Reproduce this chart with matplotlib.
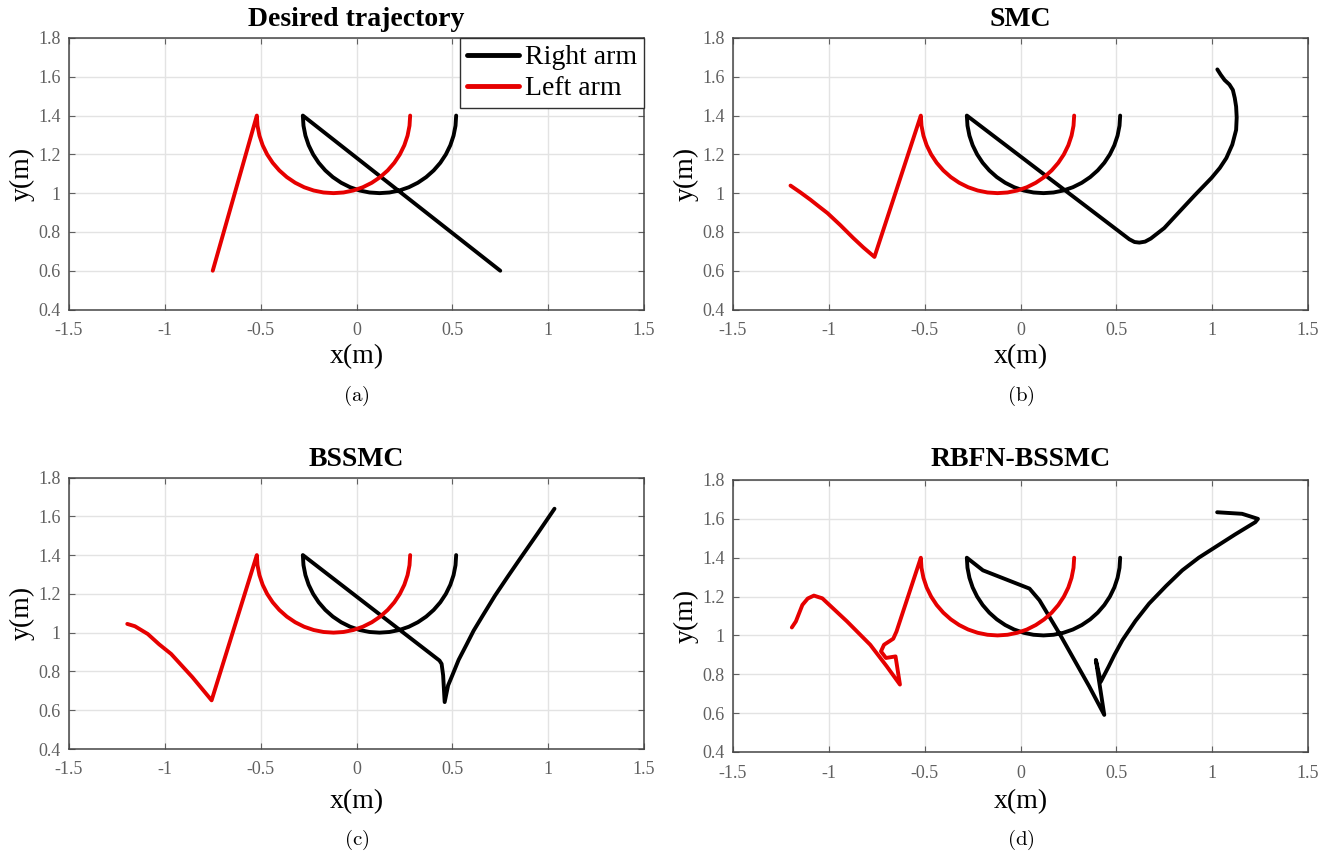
import numpy as np
import matplotlib
matplotlib.use("Agg")
import matplotlib.pyplot as plt

matplotlib.rcParams.update({
    "font.family": ["Liberation Serif", "DejaVu Serif"],
    "axes.unicode_minus": False,
    "mathtext.fontset": "cm",
})

FIG_W, FIG_H = 1341, 858
LINE_WIDTH = 2.8
RED = "#e60000"
BLACK = "black"
TICK_COLOR = "#606060"
GRID_COLOR = "#e3e3e3"

X_TICKS = [-1.5, -1.0, -0.5, 0.0, 0.5, 1.0, 1.5]
X_TICK_LABELS = ["-1.5", "-1", "-0.5", "0", "0.5", "1", "1.5"]
Y_TICKS = [0.4, 0.6, 0.8, 1.0, 1.2, 1.4, 1.6, 1.8]
Y_TICK_LABELS = ["0.4", "0.6", "0.8", "1", "1.2", "1.4", "1.6", "1.8"]

TITLES = ["Desired trajectory", "SMC", "BSSMC", "RBFN-BSSMC"]
CAPTIONS = ["(a)", "(b)", "(c)", "(d)"]

# half-circle arcs (same in every panel)
ARC_Y = [1.4, 1.3478, 1.2965, 1.2469, 1.2, 1.1565, 1.1172, 1.0827, 1.0536,
         1.0304, 1.0136, 1.0034, 1.0, 1.0034, 1.0136, 1.0304, 1.0536, 1.0827,
         1.1172, 1.1565, 1.2, 1.2469, 1.2965, 1.3478, 1.4]
RIGHT_ARC_X = [-0.28, -0.2766, -0.2664, -0.2496, -0.2264, -0.1973, -0.1628,
               -0.1235, -0.08, -0.0331, 0.0165, 0.0678, 0.12, 0.1722, 0.2235,
               0.2731, 0.32, 0.3635, 0.4028, 0.4373, 0.4664, 0.4896, 0.5064,
               0.5166, 0.52]
LEFT_ARC_X = [-0.52, -0.5166, -0.5064, -0.4896, -0.4664, -0.4373, -0.4028,
              -0.3635, -0.32, -0.2731, -0.2235, -0.1722, -0.12, -0.0678,
              -0.0165, 0.0331, 0.08, 0.1235, 0.1628, 0.1973, 0.2264, 0.2496,
              0.2664, 0.2766, 0.28]

# (a) desired
DES_RIGHT_X = [0.75, -0.28]
DES_RIGHT_Y = [0.60, 1.40]
DES_LEFT_X = [-0.75, -0.52]
DES_LEFT_Y = [0.60, 1.40]

# (b) SMC
SMC_RIGHT_X = [1.027, 1.045, 1.065, 1.09, 1.108, 1.118, 1.125, 1.128, 1.125,
               1.105, 1.074, 1.04, 0.997, 0.91, 0.825, 0.75, 0.68, 0.65, 0.62,
               0.595, 0.568, -0.28]
SMC_RIGHT_Y = [1.638, 1.61, 1.583, 1.56, 1.532, 1.49, 1.446, 1.39, 1.326,
               1.25, 1.181, 1.13, 1.079, 0.99, 0.90, 0.82, 0.766, 0.75, 0.745,
               0.748, 0.762, 1.40]
SMC_LEFT_X = [-1.20, -1.15, -1.096, -1.05, -1.007, -0.94, -0.873, -0.82, -0.762, -0.52]
SMC_LEFT_Y = [1.039, 1.005, 0.966, 0.93, 0.897, 0.835, 0.769, 0.72, 0.671, 1.40]

# (c) BSSMC
BS_RIGHT_X = [1.033, 0.944, 0.856, 0.79, 0.722, 0.66, 0.611, 0.575, 0.533,
              0.50, 0.478, 0.46, 0.452, 0.444, 0.433, -0.28]
BS_RIGHT_Y = [1.639, 1.51, 1.385, 1.29, 1.19, 1.09, 1.01, 0.94, 0.86,
              0.78, 0.728, 0.642, 0.78, 0.839, 0.856, 1.40]
BS_LEFT_X = [-1.196, -1.156, -1.089, -1.03, -0.967, -0.856, -0.756, -0.52]
BS_LEFT_Y = [1.045, 1.033, 0.993, 0.94, 0.89, 0.77, 0.651, 1.40]

# (d) RBFN-BSSMC
RB_RIGHT_X = [1.026, 1.156, 1.239, 1.225, 1.12, 1.017, 0.93, 0.844, 0.76, 0.671,
              0.60, 0.532, 0.49, 0.46, 0.419, 0.393, 0.437, 0.359, 0.203, 0.099,
              0.047, -0.196, -0.28]
RB_RIGHT_Y = [1.634, 1.626, 1.60, 1.583, 1.52, 1.455, 1.40, 1.335, 1.255, 1.164,
              1.075, 0.976, 0.90, 0.84, 0.762, 0.874, 0.591, 0.737, 1.01, 1.181,
              1.241, 1.335, 1.40]
RB_LEFT_X = [-1.193, -1.172, -1.138, -1.11, -1.078, -1.034, -0.905, -0.784, -0.698,
             -0.629, -0.652, -0.702, -0.728, -0.712, -0.664, -0.647, -0.52]
RB_LEFT_Y = [1.041, 1.072, 1.157, 1.19, 1.205, 1.191, 1.072, 0.952, 0.841,
             0.747, 0.892, 0.884, 0.918, 0.952, 0.983, 1.02, 1.40]

PANELS = [
    (DES_RIGHT_X, DES_RIGHT_Y, DES_LEFT_X, DES_LEFT_Y),
    (SMC_RIGHT_X, SMC_RIGHT_Y, SMC_LEFT_X, SMC_LEFT_Y),
    (BS_RIGHT_X, BS_RIGHT_Y, BS_LEFT_X, BS_LEFT_Y),
    (RB_RIGHT_X, RB_RIGHT_Y, RB_LEFT_X, RB_LEFT_Y),
]

# axes boxes in pixels: left, top, right, bottom
AX_BOXES = [(69, 38, 644, 309.5), (733, 38, 1308, 309.5),
            (69, 477.5, 644, 749), (733, 480, 1308, 752)]
TITLE_Y = [20, 20, 459, 459]
XLABEL_Y = [357, 357, 802, 802]
CAPTION_Y = [396, 396, 840, 840]
YLABEL_X = [22, 686, 22, 686]


def fx(px):
    return px / FIG_W


def fy(py):
    return 1 - py / FIG_H


def _plot_panel(ax, right_x, right_y, left_x, left_y):
    rx = np.concatenate([right_x, RIGHT_ARC_X])
    ry = np.concatenate([right_y, ARC_Y])
    lx = np.concatenate([left_x, LEFT_ARC_X])
    ly = np.concatenate([left_y, ARC_Y])
    ax.plot(rx, ry, color=BLACK, linewidth=LINE_WIDTH, solid_joinstyle="round",
            solid_capstyle="round", label="Right arm")
    ax.plot(lx, ly, color=RED, linewidth=LINE_WIDTH, solid_joinstyle="round",
            solid_capstyle="round", label="Left arm")
    ax.set_xlim(-1.5, 1.5)
    ax.set_ylim(0.4, 1.8)
    ax.set_xticks(X_TICKS)
    ax.set_xticklabels(X_TICK_LABELS)
    ax.set_yticks(Y_TICKS)
    ax.set_yticklabels(Y_TICK_LABELS)
    ax.tick_params(direction="in", top=True, right=True, length=4, width=0.8,
                   colors=TICK_COLOR, labelsize=13)
    ax.tick_params(axis="x", pad=9)
    ax.tick_params(axis="y", pad=6)
    for spine in ax.spines.values():
        spine.set_color("#454545")
        spine.set_linewidth(1.1)
    ax.grid(color=GRID_COLOR, linewidth=1.0)
    ax.set_axisbelow(True)


fig = plt.figure(figsize=(FIG_W / 100, FIG_H / 100), dpi=100)

for i, (box, data) in enumerate(zip(AX_BOXES, PANELS)):
    l, t, r, b = box
    ax = fig.add_axes([fx(l), fy(b), fx(r) - fx(l), (b - t) / FIG_H])
    _plot_panel(ax, *data)
    cx = fx((l + r) / 2)
    fig.text(cx, fy(TITLE_Y[i]), TITLES[i], ha="center", va="center",
             fontsize=20, fontweight="bold")
    fig.text(cx, fy(XLABEL_Y[i]), "x(m)", ha="center", va="center", fontsize=20)
    fig.text(fx(YLABEL_X[i]), fy((t + b) / 2), "y(m)", ha="center", va="center",
             fontsize=20, rotation=90)
    fig.text(cx, fy(CAPTION_Y[i]), r"$\mathrm{" + CAPTIONS[i] + "}$",
             ha="center", va="center", fontsize=15)
    if i == 0:
        leg = ax.legend(loc="upper right", borderaxespad=0, fontsize=20,
                        fancybox=False, framealpha=1, edgecolor="#303030",
                        handlelength=1.9, handletextpad=0.2, borderpad=0.25,
                        labelspacing=0.2)
        leg.get_frame().set_linewidth(1.0)
        for line in leg.get_lines():
            line.set_linewidth(3.5)

fig.savefig("out.png", dpi=100)
